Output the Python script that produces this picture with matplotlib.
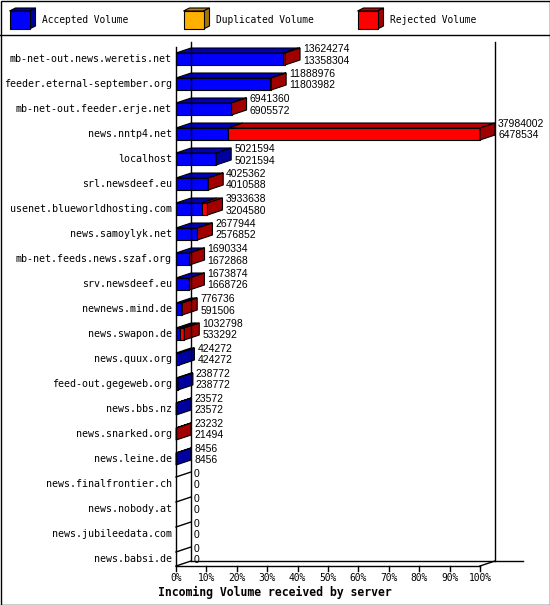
import matplotlib
matplotlib.use("Agg")
import matplotlib.pyplot as plt
from matplotlib.patches import Polygon, Rectangle
import numpy as np

# -------------------------------------------------------- #
servers = ["mb-net-out.news.weretis.net", "feeder.eternal-september.org",
           "mb-net-out.feeder.erje.net", "news.nntp4.net", "localhost",
           "srl.newsdeef.eu", "usenet.blueworldhosting.com", "news.samoylyk.net",
           "mb-net.feeds.news.szaf.org", "srv.newsdeef.eu", "newnews.mind.de",
           "news.swapon.de", "news.quux.org", "feed-out.gegeweb.org",
           "news.bbs.nz", "news.snarked.org", "news.leine.de",
           "news.finalfrontier.ch", "news.nobody.at", "news.jubileedata.com",
           "news.babsi.de"]
offered = [13624274, 11888976, 6941360, 37984002, 5021594, 4025362, 3933638,
           2677944, 1690334, 1673874, 776736, 1032798, 424272, 238772, 23572,
           23232, 8456, 0, 0, 0, 0]
accepted = [13358304, 11803982, 6905572, 6478534, 5021594, 4010588, 3204580,
            2576852, 1672868, 1668726, 591506, 533292, 424272, 238772, 23572,
            21494, 8456, 0, 0, 0, 0]
ticks = [0, 10, 20, 30, 40, 50, 60, 70, 80, 90, 100]
legend_names = ["Accepted Volume", "Duplicated Volume", "Rejected Volume"]

# colours: (front, top, side)
BLUE = ("#0000ff", "#0000b8", "#0000a0")
ORANGE = ("#ffb000", "#c08400", "#a87400")
RED = ("#ff0000", "#b80000", "#a00000")
# -------------------------------------------------------- #

W, H = 550, 605
fig = plt.figure(figsize=(W / 100, H / 100), dpi=100)

# overlay axes in pixel coordinates for frame/legend
deco = fig.add_axes([0, 0, 1, 1])
deco.set_xlim(0, W)
deco.set_ylim(H, 0)
deco.axis("off")
deco.add_patch(Rectangle((0.5, 0.5), W - 1, H - 1, fill=False, lw=1, ec="black"))
deco.plot([0, W], [35, 35], color="black", lw=1)

mono = "DejaVu Sans Mono"
for k, (name, col) in enumerate(zip(legend_names, [BLUE, ORANGE, RED])):
    x0 = 9.5 + 174 * k
    y0 = 11
    fw, fh, d1, d2 = 20, 18, 6, 3
    deco.add_patch(Polygon([(x0, y0), (x0 + d1, y0 - d2), (x0 + fw + d1, y0 - d2), (x0 + fw, y0)],
                           fc=col[1], ec="black", lw=0.8))
    deco.add_patch(Polygon([(x0 + fw, y0), (x0 + fw + d1, y0 - d2), (x0 + fw + d1, y0 + fh - d2),
                            (x0 + fw, y0 + fh)], fc=col[2], ec="black", lw=0.8))
    deco.add_patch(Rectangle((x0, y0), fw, fh, fc=col[0], ec="black", lw=0.8))
    deco.text(x0 + 33, 20, name, family=mono, fontsize=6.9, va="center", ha="left")

deco.text(275, 592, "Incoming Volume received by server", family=mono,
          fontweight="bold", fontsize=8.3, ha="center", va="center")

# main (front plane) axes
px_left, px_right, px_bottom, px_top = 176, 480, 566, 48
ax = fig.add_axes([px_left / W, (H - px_bottom) / H,
                   (px_right - px_left) / W, (px_bottom - px_top) / H])
ax.axis("off")
vmax = max(offered)
ax.set_xlim(0, vmax)
row0, step = 59, 25
ax.set_ylim((px_bottom - row0) / step, (px_top - row0) / step)

xpx = vmax / (px_right - px_left)   # data per pixel, x
ypx = 1 / step                        # data per pixel, y
DX, DY = 15 * xpx, -5 * ypx
hh = 6 * ypx
ybot = (px_bottom - row0) / step
ytop_back = (42 - row0) / step

lk = dict(color="black", lw=1, clip_on=False)
# walls
ax.plot([0, 0], [ybot, ytop_back - DY], **lk)
ax.plot([0, vmax], [ybot, ybot], **lk)
ax.plot([DX, DX], [ybot + DY, ytop_back], **lk)
ax.plot([vmax + DX, vmax + DX], [ybot + DY, ytop_back], **lk)
ax.plot([DX, vmax + 43 * xpx], [ybot + DY, ybot + DY], **lk)
ax.plot([0, DX], [ybot, ybot + DY], **lk)
ax.plot([vmax, vmax + DX], [ybot, ybot + DY], **lk)

for t in ticks:
    xv = vmax * t / 100
    ax.plot([xv, xv], [ybot, ybot + 5 * ypx], **lk)
    ax.text(xv, ybot + 12 * ypx, f"{t}%", family=mono, fontsize=6.9,
            ha="center", va="center")

for i, (name, tot, acc) in enumerate(zip(servers, offered, accepted)):
    ax.text(-4 * xpx, i, name, family=mono, fontsize=7.2, ha="right", va="center")
    ax.text(tot + DX + 3 * xpx, i - 10 * ypx, str(tot), family="Liberation Sans",
            fontsize=7.5, ha="left", va="center")
    ax.text(tot + DX + 3 * xpx, i + 1.5 * ypx, str(acc), family="Liberation Sans",
            fontsize=7.5, ha="left", va="center")
    yt, yb = i - hh, i + hh
    if tot == 0:
        ax.plot([0, DX], [yt - ypx, yt - ypx + DY], **lk)
        continue
    segs = [(0, acc, BLUE), (acc, tot, RED)]
    segs = [s for s in segs if s[1] > s[0]]
    for a, b, col in segs:
        ax.add_patch(Polygon([(a, yt), (a + DX, yt + DY), (b + DX, yt + DY), (b, yt)],
                             fc=col[1], ec="black", lw=0.8, clip_on=False))
        ax.add_patch(Rectangle((a, yt), b - a, yb - yt, fc=col[0], ec="black",
                               lw=0.8, clip_on=False))
    last = segs[-1][2]
    ax.add_patch(Polygon([(tot, yt), (tot + DX, yt + DY), (tot + DX, yb + DY), (tot, yb)],
                         fc=last[2], ec="black", lw=0.8, clip_on=False))

fig.savefig("out.png", dpi=100)
